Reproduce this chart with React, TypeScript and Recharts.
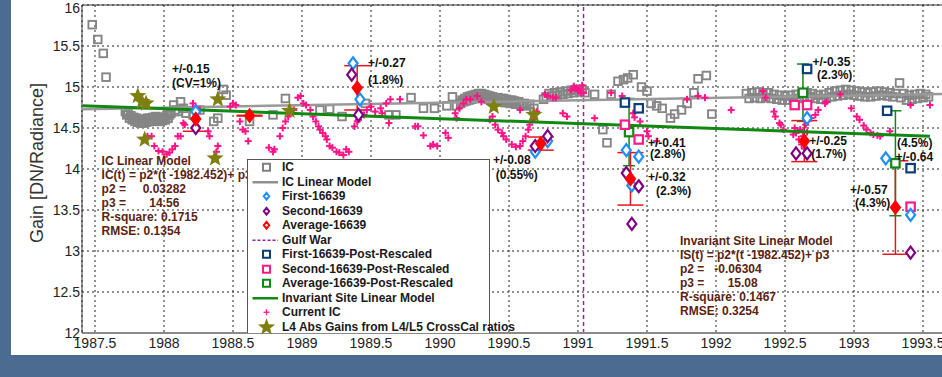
import React from "react"
import {
  CartesianGrid,
  ComposedChart,
  ErrorBar,
  ReferenceLine,
  Scatter,
  XAxis,
  YAxis,
} from "recharts"

const xTicks = [1987.5, 1988, 1988.5, 1989, 1989.5, 1990, 1990.5, 1991, 1991.5, 1992, 1992.5, 1993, 1993.5]
const yTicks = [12, 12.5, 13, 13.5, 14, 14.5, 15, 15.5, 16]
const gulfWar = 1991.04

// IC gain (gray squares)
const icGain: number[][] = [
  [1987.48, 15.76], [1987.52, 15.58], [1987.56, 15.41], [1987.58, 15.12],
  [1987.72, 14.7], [1987.73, 14.66], [1987.74, 14.68], [1987.75, 14.62], [1987.76, 14.65], [1987.77, 14.6],
  [1987.78, 14.63], [1987.79, 14.58], [1987.8, 14.62], [1987.81, 14.57], [1987.82, 14.6], [1987.83, 14.56],
  [1987.84, 14.6], [1987.85, 14.56], [1987.86, 14.61], [1987.87, 14.57], [1987.88, 14.62], [1987.89, 14.58],
  [1987.9, 14.62], [1987.91, 14.58], [1987.92, 14.63], [1987.93, 14.59], [1987.94, 14.64], [1987.95, 14.6],
  [1987.96, 14.63], [1987.97, 14.58], [1987.98, 14.62], [1987.99, 14.59], [1988.0, 14.63], [1988.01, 14.6],
  [1988.02, 14.65], [1988.03, 14.62], [1988.04, 14.66], [1988.05, 14.68], [1988.07, 14.78], [1988.08, 14.72],
  [1988.1, 14.7], [1988.12, 14.82], [1988.14, 14.74], [1988.16, 14.68], [1988.21, 14.66], [1988.26, 14.72],
  [1988.36, 14.58], [1988.39, 14.62], [1988.43, 14.97], [1988.45, 14.9], [1988.62, 14.58], [1988.79, 14.66],
  [1988.88, 14.86], [1989.13, 14.72], [1989.2, 14.73], [1989.29, 14.64], [1989.46, 14.8], [1989.63, 14.66],
  [1989.68, 14.66], [1989.79, 14.87], [1989.88, 14.74], [1989.96, 14.74], [1990.05, 14.77], [1990.09, 14.88],
  [1990.12, 14.77],
  [1990.15, 14.8], [1990.16, 14.84], [1990.17, 14.82], [1990.18, 14.86], [1990.19, 14.83], [1990.2, 14.88],
  [1990.21, 14.84], [1990.22, 14.89], [1990.23, 14.85], [1990.24, 14.9], [1990.25, 14.86], [1990.26, 14.91],
  [1990.27, 14.87], [1990.28, 14.92], [1990.29, 14.88], [1990.3, 14.92], [1990.31, 14.87], [1990.32, 14.91],
  [1990.33, 14.86], [1990.34, 14.9], [1990.35, 14.85], [1990.36, 14.89], [1990.37, 14.84], [1990.38, 14.88],
  [1990.39, 14.84], [1990.4, 14.87], [1990.41, 14.83], [1990.42, 14.87], [1990.43, 14.82], [1990.44, 14.86],
  [1990.45, 14.82], [1990.46, 14.86], [1990.47, 14.81], [1990.48, 14.85], [1990.49, 14.81], [1990.5, 14.84],
  [1990.51, 14.8], [1990.52, 14.84], [1990.53, 14.8], [1990.54, 14.83], [1990.55, 14.79], [1990.57, 14.82],
  [1990.59, 14.78], [1990.61, 14.8], [1990.63, 14.77], [1990.65, 14.79], [1990.68, 14.74], [1990.75, 14.85],
  [1990.77, 14.88], [1990.79, 14.92], [1990.81, 14.89], [1990.83, 14.93], [1990.85, 14.9], [1990.87, 14.94],
  [1990.89, 14.91], [1990.91, 14.95], [1990.93, 14.92], [1990.95, 14.96], [1990.97, 14.93], [1990.99, 14.97],
  [1991.01, 14.94], [1991.03, 14.97], [1991.05, 14.93],
  [1991.12, 14.91], [1991.18, 14.48], [1991.21, 14.32], [1991.24, 14.91], [1991.29, 15.07], [1991.33, 15.09],
  [1991.36, 15.11], [1991.4, 15.15], [1991.46, 15.0], [1991.5, 14.95], [1991.53, 14.8], [1991.57, 14.77],
  [1991.61, 14.74], [1991.67, 14.62], [1991.7, 14.67], [1991.75, 14.72], [1991.79, 14.8], [1991.84, 14.93],
  [1991.87, 15.1], [1991.93, 15.14], [1991.97, 14.67],
  [1992.22, 14.92], [1992.24, 14.86], [1992.26, 14.93], [1992.28, 14.87], [1992.3, 14.94], [1992.32, 14.86],
  [1992.34, 14.92], [1992.36, 14.87], [1992.38, 14.93], [1992.4, 14.86], [1992.42, 14.91], [1992.44, 14.85],
  [1992.46, 14.9], [1992.48, 14.84], [1992.5, 14.89], [1992.52, 14.84], [1992.54, 14.9], [1992.56, 14.85],
  [1992.58, 14.91], [1992.6, 14.86], [1992.62, 14.92], [1992.64, 14.87], [1992.66, 14.93], [1992.68, 14.88],
  [1992.7, 14.92], [1992.72, 14.86], [1992.74, 14.9], [1992.76, 14.85], [1992.78, 14.91], [1992.8, 14.86],
  [1992.82, 14.93], [1992.84, 14.88], [1992.86, 14.95], [1992.88, 14.89], [1992.9, 14.96], [1992.92, 14.9],
  [1992.94, 14.97], [1992.96, 14.91], [1992.98, 14.96], [1993.0, 14.9], [1993.02, 14.95], [1993.04, 14.89],
  [1993.06, 14.94], [1993.08, 14.88], [1993.1, 14.93], [1993.12, 14.88], [1993.14, 14.94], [1993.16, 14.89],
  [1993.18, 14.95], [1993.2, 14.9], [1993.22, 14.94], [1993.24, 14.89], [1993.26, 14.93], [1993.28, 14.88],
  [1993.3, 14.92], [1993.33, 15.05], [1993.34, 14.87], [1993.36, 14.92], [1993.38, 14.84], [1993.4, 14.9],
  [1993.42, 14.85], [1993.44, 14.91], [1993.46, 14.86], [1993.48, 14.92], [1993.5, 14.87], [1993.52, 14.91],
  [1993.54, 14.88],
]

const icLinearModel = [[1987.41, 14.73], [1993.77, 14.92]]
const invariantSiteModel = [[1987.41, 14.77], [1993.55, 14.4]]

// Current IC (pink crosses)
const currentIc: number[][] = [
  [1987.88, 14.4], [1987.91, 14.4], [1987.93, 14.28], [1987.96, 14.22], [1987.99, 14.21], [1988.02, 14.18],
  [1988.04, 14.2], [1988.06, 14.24], [1988.08, 14.28], [1988.1, 14.4], [1988.12, 14.4], [1988.14, 14.56],
  [1988.15, 14.54], [1988.21, 14.8], [1988.23, 14.75], [1988.26, 14.72], [1988.32, 14.46], [1988.33, 14.4],
  [1988.38, 14.21], [1988.39, 14.28], [1988.48, 14.76], [1988.5, 14.8], [1988.52, 14.78], [1988.55, 14.58],
  [1988.57, 14.48], [1988.59, 14.46], [1988.61, 14.34], [1988.76, 14.26], [1988.79, 14.21], [1988.8, 14.24],
  [1988.84, 14.4], [1988.86, 14.5], [1988.88, 14.58], [1988.9, 14.64], [1988.91, 14.69], [1988.94, 14.72],
  [1988.97, 14.87], [1988.99, 14.89], [1989.01, 14.8], [1989.03, 14.78], [1989.06, 14.72], [1989.08, 14.64],
  [1989.1, 14.58], [1989.12, 14.52], [1989.13, 14.48], [1989.15, 14.44], [1989.17, 14.4], [1989.18, 14.36],
  [1989.2, 14.28], [1989.22, 14.26], [1989.25, 14.21], [1989.27, 14.2], [1989.3, 14.17], [1989.32, 14.24],
  [1989.34, 14.21], [1989.38, 14.52], [1989.4, 14.58], [1989.41, 14.6], [1989.43, 14.68], [1989.45, 14.66],
  [1989.47, 14.72], [1989.5, 14.76], [1989.53, 14.7], [1989.57, 14.74], [1989.58, 14.68], [1989.61, 14.8],
  [1989.63, 14.56], [1989.64, 14.85], [1989.71, 14.85], [1989.82, 14.52], [1989.84, 14.52], [1989.88, 14.41],
  [1989.93, 14.28], [1989.95, 14.3], [1989.98, 14.28], [1990.04, 14.44], [1990.06, 14.38], [1990.11, 14.68],
  [1990.12, 14.62], [1990.14, 14.74], [1990.17, 14.8], [1990.19, 14.85], [1990.22, 14.85], [1990.27, 14.89],
  [1990.3, 14.82], [1990.36, 14.6], [1990.38, 14.64], [1990.4, 14.54], [1990.42, 14.48], [1990.45, 14.44],
  [1990.46, 14.4], [1990.48, 14.36], [1990.52, 14.3], [1990.55, 14.27], [1990.58, 14.28], [1990.6, 14.34],
  [1990.62, 14.4], [1990.64, 14.48], [1990.65, 14.54], [1990.67, 14.6], [1990.68, 14.66], [1990.7, 14.7],
  [1990.58, 14.72], [1990.76, 14.91], [1990.78, 14.89], [1990.82, 14.87], [1990.84, 14.87], [1990.89, 14.68],
  [1990.92, 14.64], [1990.95, 14.96], [1990.97, 15.01], [1990.98, 14.98], [1990.99, 14.99], [1991.0, 14.95],
  [1991.01, 14.97], [1991.02, 14.93], [1991.03, 15.02], [1991.04, 14.93], [1991.12, 14.62], [1991.24, 14.93],
  [1991.32, 14.89], [1991.4, 14.68], [1991.41, 14.63], [1991.45, 14.58], [1991.5, 14.46], [1991.51, 14.4],
  [1991.57, 14.34], [1991.79, 14.85], [1991.87, 14.89], [1991.92, 14.87], [1992.11, 14.72], [1992.34, 14.95],
  [1992.36, 14.87], [1992.42, 14.7], [1992.43, 14.64], [1992.46, 14.56], [1992.47, 14.54], [1992.49, 14.48],
  [1992.56, 14.42], [1992.57, 14.5], [1992.58, 14.44], [1992.6, 14.36], [1992.61, 14.48], [1992.62, 14.3],
  [1992.63, 14.4], [1992.64, 14.25], [1992.65, 14.54], [1992.66, 14.45], [1992.69, 14.62], [1992.72, 14.66],
  [1992.74, 14.72], [1992.79, 14.8], [1992.8, 14.82], [1992.9, 14.91], [1992.98, 14.74], [1993.02, 14.64],
  [1993.04, 14.6], [1993.07, 14.53], [1993.09, 14.48], [1993.12, 14.44], [1993.14, 14.42], [1993.17, 14.41],
  [1993.19, 14.4], [1993.26, 14.46], [1993.41, 14.78], [1993.55, 14.78],
]

// L4 abs gains from L4/L5 cross-cal (stars)
const l4AbsGains = [
  [1987.81, 14.89], [1987.84, 14.82], [1987.87, 14.8], [1987.86, 14.36], [1988.39, 14.85],
  [1988.37, 14.13], [1988.91, 14.71], [1990.39, 14.76], [1990.68, 14.66],
]

const first16639 = [
  [1988.23, 14.7], [1989.37, 15.29], [1989.42, 14.85], [1990.69, 14.21], [1990.78, 14.34],
  [1991.35, 14.23], [1991.44, 14.15], [1991.39, 13.8], [1992.66, 14.62], [1993.23, 14.13], [1993.41, 13.44],
]
const second16639 = [
  [1988.23, 14.5], [1989.36, 15.15], [1989.41, 14.66], [1990.69, 14.28], [1990.78, 14.4],
  [1991.35, 13.95], [1991.44, 13.79], [1991.39, 13.33], [1992.58, 14.19], [1992.66, 14.19], [1993.41, 12.98],
]
// [year, gain, +/- error]
const average16639 = [
  [1988.23, 14.61, 0.15], [1988.62, 14.65, 0.005], [1989.4, 14.99, 0.27], [1990.73, 14.31, 0.08],
  [1991.38, 13.88, 0.32], [1992.64, 14.34, 0.25], [1993.3, 13.53, 0.57],
]

const firstPostRescaled = [[1991.34, 14.81], [1991.44, 14.74], [1992.66, 15.22], [1993.24, 14.71], [1993.41, 14.01]]
const secondPostRescaled = [[1991.34, 14.54], [1991.44, 14.36], [1992.57, 14.78], [1992.66, 14.78], [1993.41, 13.54]]
const averagePostRescaled = [[1991.37, 14.45, 0.41], [1992.63, 14.93, 0.35], [1993.3, 14.07, 0.64]]

const errorNotes: [number, number, string][] = [
  [1988.058, 15.223, "+/-0.15"], [1988.058, 15.052, "(CV=1%)"],
  [1989.478, 15.296, "+/-0.27"], [1989.478, 15.089, "(1.8%)"],
  [1990.384, 14.113, "+/-0.08"], [1990.404, 13.93, "(0.55%)"],
  [1991.507, 14.321, "+/-0.41"], [1991.522, 14.187, "(2.8%)"],
  [1991.507, 13.906, "+/-0.32"], [1991.565, 13.735, "(2.3%)"],
  [1992.7, 15.309, "+/-0.35"], [1992.732, 15.15, "(2.3%)"],
  [1992.675, 14.345, "+/-0.25"], [1992.69, 14.18, "(1.7%)"],
  [1993.312, 14.32, "(4.5%)"], [1993.3, 14.15, "+/-0.64"],
  [1992.971, 13.748, "+/-0.57"], [1993.007, 13.589, "(4.3%)"],
]

const icModelText = [
  "IC Linear Model",
  "IC(t) = p2*(t -1982.452)+ p3",
  "p2 =     0.03282",
  "p3 =       14.56",
  "R-square: 0.1715",
  "RMSE: 0.1354",
]
const isModelText = [
  "Invariant Site Linear Model",
  "IS(t) = p2*(t -1982.452)+ p3",
  "p2 =   -0.06304",
  "p3 =       15.08",
  "R-square: 0.1467",
  "RMSE: 0.3254",
]
const modelNotes = [
  { x: 1987.548, y: 14.093, lines: icModelText },
  { x: 1991.739, y: 13.126, lines: isModelText },
]

const FONT = "'Liberation Sans', Arial, sans-serif"

const pts = (rows: number[][]) => rows.map(([x, y, err]) => ({ x, y, err }))

const starPath = (cx: number, cy: number, R: number, r: number) => {
  let d = ""
  for (let i = 0; i < 10; i++) {
    const rad = i % 2 === 0 ? R : r
    const a = -Math.PI / 2 + (i * Math.PI) / 5
    d += (i === 0 ? "M" : "L") + (cx + rad * Math.cos(a)).toFixed(2) + "," + (cy + rad * Math.sin(a)).toFixed(2)
  }
  return d + "Z"
}

const squareShape = (color: string, half: number, sw: number, fill = "none") => (p: any) => (
  <rect x={p.cx - half} y={p.cy - half} width={half * 2} height={half * 2} fill={fill} stroke={color} strokeWidth={sw} />
)
const diamondShape = (color: string, fill: string) => (p: any) => (
  <path
    d={`M${p.cx},${p.cy - 6}L${p.cx + 4.5},${p.cy}L${p.cx},${p.cy + 6}L${p.cx - 4.5},${p.cy}Z`}
    fill={fill}
    stroke={color}
    strokeWidth={2.2}
  />
)
const plusShape = (p: any) => (
  <g stroke="#ff1487" strokeWidth={2}>
    <line x1={p.cx - 3.5} x2={p.cx + 3.5} y1={p.cy} y2={p.cy} />
    <line x1={p.cx} x2={p.cx} y1={p.cy - 3.5} y2={p.cy + 3.5} />
  </g>
)
const starShape = (p: any) => <path d={starPath(p.cx, p.cy, 9, 3.8)} fill="#7f7f10" />
const noShape = () => <g />
const noteShape = (p: any) => (
  <text x={p.cx} y={p.cy} fontFamily={FONT} fontSize={12} fontWeight="bold" fill="#111" dominantBaseline="central">
    {p.payload?.label ?? p.label}
  </text>
)
const blockShape = (p: any) => {
  const lines: string[] = p.payload?.lines ?? p.lines ?? []
  return (
    <text x={p.cx} y={p.cy} fontFamily={FONT} fontSize={12} fontWeight="bold" fill="#5a2212" dominantBaseline="central" style={{ whiteSpace: "pre" }}>
      {lines.map((l, i) => (
        <tspan key={i} x={p.cx} dy={i === 0 ? 0 : 14}>
          {l}
        </tspan>
      ))}
    </text>
  )
}

const legendItems = [
  { label: "IC", kind: "square", color: "#808080" },
  { label: "IC Linear Model", kind: "line", color: "#909090" },
  { label: "First-16639", kind: "diamond", color: "#1e8fff" },
  { label: "Second-16639", kind: "diamond", color: "#800080" },
  { label: "Average-16639", kind: "diamond", color: "#ff0000" },
  { label: "Gulf War", kind: "dash", color: "#9b1fa0" },
  { label: "First-16639-Post-Rescaled", kind: "square", color: "#0a3f7a" },
  { label: "Second-16639-Post-Rescaled", kind: "square", color: "#ff1a8c" },
  { label: "Average-16639-Post-Rescaled", kind: "square", color: "#118811" },
  { label: "Invariant Site Linear Model", kind: "line", color: "#118811" },
  { label: "Current IC", kind: "plus", color: "#ff1a8c" },
  { label: "L4 Abs Gains from L4/L5 CrossCal ratios", kind: "star", color: "#7f7f10" },
]

function LegendIcon({ kind, color }: { kind: string; color: string }) {
  const cx = 18.5
  const cy = 7.25
  let el: React.ReactNode = null
  if (kind === "square")
    el = <rect x={cx - 3.5} y={cy - 3.5} width={7} height={7} fill="white" stroke={color} strokeWidth={2} />
  else if (kind === "line") el = <line x1={4.5} x2={30} y1={cy} y2={cy} stroke={color} strokeWidth={2.5} />
  else if (kind === "dash")
    el = <line x1={4.5} x2={30} y1={cy} y2={cy} stroke={color} strokeWidth={1.5} strokeDasharray="3 2" />
  else if (kind === "diamond")
    el = (
      <g>
        <path d={`M${cx},${cy - 5}L${cx + 4},${cy}L${cx},${cy + 5}L${cx - 4},${cy}Z`} fill={color} />
        <circle cx={cx} cy={cy} r={1.2} fill="white" />
      </g>
    )
  else if (kind === "plus")
    el = (
      <g stroke={color} strokeWidth={1.3}>
        <line x1={cx - 3} x2={cx + 3} y1={cy} y2={cy} />
        <line x1={cx} x2={cx} y1={cy - 3} y2={cy + 3} />
      </g>
    )
  else if (kind === "star") el = <path d={starPath(cx, cy, 9, 3.8)} fill={color} />
  return (
    <svg width={34} height={14.5} style={{ flex: "none", overflow: "visible" }}>
      {el}
    </svg>
  )
}

function ChartLegend() {
  return (
    <div
      style={{
        position: "absolute",
        left: 247,
        top: 159,
        width: 243,
        height: 174,
        background: "white",
        border: "1px solid #555",
        borderBottom: "none",
        boxSizing: "border-box",
        fontFamily: FONT,
        fontSize: 12,
        fontWeight: "bold",
        color: "#1a1a1a",
      }}
    >
      {legendItems.map((it) => (
        <div key={it.label} style={{ display: "flex", alignItems: "center", height: 14.5, whiteSpace: "nowrap" }}>
          <LegendIcon kind={it.kind} color={it.color} />
          <span>{it.label}</span>
        </div>
      ))}
    </div>
  )
}

export default function App() {
  return (
    <div style={{ position: "fixed", left: 0, top: 0, width: 942, height: 377, overflow: "hidden", background: "#4b6b91" }}>
      <div style={{ position: "absolute", left: 11, top: 0, width: 931, height: 355, background: "white" }} />
      <div style={{ position: "absolute", left: 0, top: 0 }}>
        <ComposedChart width={960} height={355} margin={{ top: 5, right: 0, bottom: 0, left: 0 }}>
          <CartesianGrid stroke="#222" strokeDasharray="2 3" strokeWidth={1} />
          <XAxis
            dataKey="x"
            type="number"
            domain={[1987.4058, 1993.768]}
            allowDataOverflow
            ticks={xTicks}
            tickFormatter={(v) => String(v)}
            height={22}
            tickLine={false}
            tickSize={3}
            tickMargin={2}
            axisLine={{ stroke: "#8a8a8a", strokeWidth: 2 }}
            tick={{ fill: "#222", fontSize: 14, fontFamily: FONT }}
          />
          <YAxis
            dataKey="y"
            type="number"
            domain={[12, 16]}
            allowDataOverflow
            ticks={yTicks}
            tickFormatter={(v) => String(v)}
            width={82}
            tickLine={false}
            tickSize={0}
            tickMargin={2}
            axisLine={{ stroke: "#333", strokeWidth: 1 }}
            tick={{ fill: "#222", fontSize: 14, fontFamily: FONT }}
            label={{
              content: () => (
                <text
                  x={37}
                  y={163}
                  transform="rotate(-90 37 163)"
                  textAnchor="middle"
                  dominantBaseline="central"
                  fontFamily={FONT}
                  fontSize={18}
                  fill="#333"
                >
                  Gain [DN/Radiance]
                </text>
              ),
            }}
          />
          <ReferenceLine y={16} stroke="#333" strokeWidth={1} />
          <ReferenceLine x={gulfWar} stroke="#9b1fa0" strokeWidth={1.5} strokeDasharray="4 3" />

          <Scatter data={pts(icGain)} shape={squareShape("#858585", 3.8, 1.9)} isAnimationActive={false} />
          <Scatter
            data={pts(icLinearModel)}
            shape={noShape}
            line={{ stroke: "#999", strokeWidth: 2.5 }}
            isAnimationActive={false}
          />
          <Scatter data={pts(currentIc)} shape={plusShape} isAnimationActive={false} />
          <Scatter
            data={pts(invariantSiteModel)}
            shape={noShape}
            line={{ stroke: "#118811", strokeWidth: 3 }}
            isAnimationActive={false}
          />
          <Scatter data={pts(l4AbsGains)} shape={starShape} isAnimationActive={false} />
          <Scatter data={pts(averagePostRescaled)} shape={squareShape("#118811", 4.2, 2.2, "white")} isAnimationActive={false}>
            <ErrorBar dataKey="err" direction="y" width={6} stroke="#118811" strokeWidth={1.5} />
          </Scatter>
          <Scatter data={pts(firstPostRescaled)} shape={squareShape("#0a3f7a", 4.2, 2.2, "white")} isAnimationActive={false} />
          <Scatter data={pts(secondPostRescaled)} shape={squareShape("#ff1a8c", 4.2, 2.2, "white")} isAnimationActive={false} />
          <Scatter data={pts(first16639)} shape={diamondShape("#1e8fff", "white")} isAnimationActive={false} />
          <Scatter data={pts(second16639)} shape={diamondShape("#800080", "white")} isAnimationActive={false} />
          <Scatter data={pts(average16639)} shape={diamondShape("#ff0000", "#ff0000")} isAnimationActive={false}>
            <ErrorBar dataKey="err" direction="y" width={13} stroke="#e8141c" strokeWidth={1.5} />
          </Scatter>
          <Scatter
            data={errorNotes.map(([x, y, label]) => ({ x, y, label }))}
            shape={noteShape}
            isAnimationActive={false}
          />
          <Scatter data={modelNotes} shape={blockShape} isAnimationActive={false} />
        </ComposedChart>
      </div>
      <ChartLegend />
    </div>
  )
}
